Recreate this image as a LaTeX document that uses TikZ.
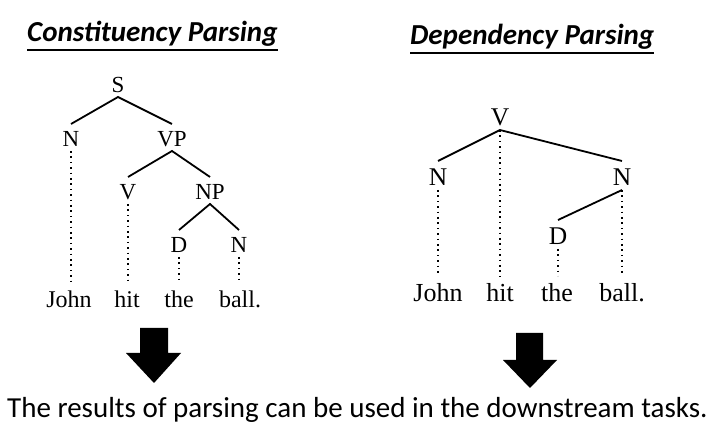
\documentclass[tikz,border=0pt]{standalone}
\usepackage{fontspec}
\setmainfont{Liberation Serif}
\newfontfamily\carlito{Carlito}
\usetikzlibrary{calc}

\begin{document}
\begin{tikzpicture}[x=1pt, y=-1pt,
  title/.style={anchor=base west, inner sep=0pt, font=\carlito\bfseries\itshape\fontsize{29}{29}\selectfont},
  cat/.style={anchor=base, inner sep=0pt, outer ysep=4pt, text height=19pt, text depth=0pt, font=\fontsize{23}{23}\selectfont},
  word/.style={anchor=base, inner sep=0pt, outer ysep=4pt, text height=20.5pt, text depth=0pt, font=\fontsize{24}{24}\selectfont},
  dcat/.style={cat, text height=21pt, font=\fontsize{25.5}{25.5}\selectfont},
  dword/.style={word, text height=22pt, font=\fontsize{26}{26}\selectfont},
  edge/.style={line width=1.8pt},
  dots/.style={line width=1.6pt, dash pattern=on 1.6pt off 3.8pt},
  uline/.style={line width=2pt},
  bigarrow/.style={fill=black}
]
\useasboundingbox (0,0) rectangle (713,430);

% titles
\node[title] (ctitle) at (27,42) {Constituency Parsing};
\node[title] (dtitle) at (410,45) {Dependency Parsing};
\draw[uline] ([yshift=-8pt]ctitle.base west) -- ([yshift=-8pt]ctitle.base east);
\draw[uline] ([yshift=-8pt]dtitle.base west) -- ([yshift=-8pt]dtitle.base east);

% constituency tree
\node[cat] (cS) at (118,93) {S};
\node[cat] (cN1) at (71,147) {N};
\node[cat] (cVP) at (172,147) {VP};
\node[cat] (cV) at (128,200) {V};
\node[cat] (cNP) at (210,200) {NP};
\node[cat] (cD) at (179,253) {D};
\node[cat] (cN2) at (239,253) {N};

\node[word] (cjohn) at (69,308) {John};
\node[word] (chit) at (127,308) {hit};
\node[word] (cthe) at (179,308) {the};
\node[word] (cball) at (240,308) {ball.};

\draw[edge] (cN1.north) -- (cS.south) -- (cVP.north);
\draw[edge] (cV.north) -- (cVP.south) -- (cNP.north);
\draw[edge] (cD.north) -- (cNP.south) -- (cN2.north);

\draw[dots] (cN1.south) -- (cN1.south |- cjohn.north);
\draw[dots] (cV.south) -- (cV.south |- chit.north);
\draw[dots] (cD.south) -- (cD.south |- cthe.north);
\draw[dots] (cN2.south) -- (cN2.south |- cball.north);

% dependency tree
\node[dcat] (dV) at (500,126) {V};
\node[dcat] (dN1) at (438,186) {N};
\node[dcat] (dN2) at (622,186) {N};
\node[dcat] (dD) at (558,245) {D};

\node[dword] (djohn) at (438,302) {John};
\node[dword] (dhit) at (500,302) {hit};
\node[dword] (dthe) at (557,302) {the};
\node[dword] (dball) at (622,302) {ball.};

\draw[edge] (dN1.north) -- (dV.south) -- (dN2.north);
\draw[edge] (dN2.south) -- (dD.north);

\draw[dots] (dN1.south) -- (dN1.south |- djohn.north);
\draw[dots] (dV.south) -- (dV.south |- dhit.north);
\draw[dots] (dD.south) -- (dD.south |- dthe.north);
\draw[dots] (dN2.south) -- (dN2.south |- dball.north);

% arrows and conclusion
\fill[bigarrow] (140,328) -- (168,328) -- (168,353) -- (181,353) -- (154,383) -- (126,353) -- (140,353) -- cycle;
\fill[bigarrow] (516,333) -- (543,333) -- (543,360) -- (557,360) -- (530,388) -- (503,360) -- (516,360) -- cycle;

\node[anchor=base west, inner sep=0pt, font=\carlito\fontsize{29}{29}\selectfont] (result) at (7,418)
  {The results of parsing can be used in the downstream tasks.};

\end{tikzpicture}
\end{document}
